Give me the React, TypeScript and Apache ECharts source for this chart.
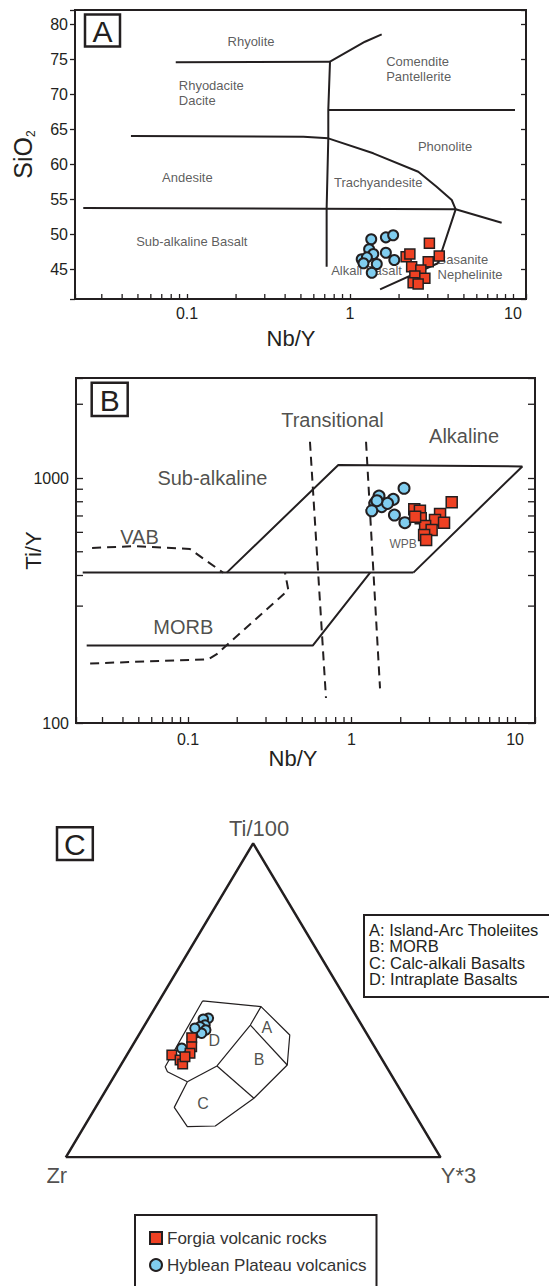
import React, { useEffect, useRef } from "react";
import * as echarts from "echarts";

const INK = "#231f20";
const TXT = "#333333";
const RED = "#ef4123";
const BLUE = "#80cdef";
const FONT = "'Liberation Sans', Arial, Helvetica, sans-serif";

// ---------------- Panel A : SiO2 vs Nb/Y ----------------
const A_X_MIN = 0.02055;
const A_X_MAX = 12.02;
const A_Y_MIN = 40.76;
const A_Y_MAX = 82.04;

const aForgia: number[][] = [
  [3.07, 48.71], [3.53, 46.9], [2.21, 46.8], [2.33, 47.19], [3.02, 46.09], [2.39, 45.37],
  [2.72, 44.9], [2.5, 44.04], [2.88, 43.71], [2.44, 43.09], [2.62, 42.9],
];
const aHyblean: number[][] = [
  [1.35, 49.29], [1.66, 49.57], [1.84, 49.86], [1.31, 47.86], [1.39, 47.19], [1.18, 46.43],
  [1.27, 46.71], [1.66, 47.37], [1.87, 46.33], [1.46, 45.76], [1.21, 45.86], [1.36, 44.51],
];

const aRhyoliteBase = [[0.0853, 74.57], [0.754, 74.66]];
const aComendite = [[0.754, 74.66], [1.236, 77.51], [1.565, 78.57]];
const aVertical = [[0.754, 74.66], [0.736, 67.76], [0.736, 63.71], [0.719, 53.71], [0.719, 45.37]];
const aPhonoliteTop = [[0.736, 67.76], [10.29, 67.76]];
const aAndesiteTop = [[0.0453, 64.04], [0.518, 63.94], [0.736, 63.71]];
const aPhonoliteBase = [[0.736, 63.71], [1.39, 61.57], [2.624, 58.94], [3.4, 56.8], [4.21, 54.9], [4.45, 53.57]];
const aBasaltTop = [[0.0231, 53.76], [4.45, 53.57]];
const aBasaniteTop = [[4.45, 53.57], [8.52, 51.66]];
const aBasaniteLeft = [[4.45, 53.57], [3.46, 45.87], [1.53, 42.14]];
const aBoundaries = [aRhyoliteBase, aComendite, aVertical, aPhonoliteTop, aAndesiteTop, aPhonoliteBase, aBasaltTop, aBasaniteTop, aBasaniteLeft];

const aFieldLabels = [
  { name: "Rhyolite", value: [0.247, 77.51] },
  { name: "Rhyodacite\nDacite", value: [0.0884, 70.19] },
  { name: "Andesite", value: [0.1005, 58.09] },
  { name: "Sub-alkaline Basalt", value: [0.107, 49.04] },
  { name: "Comendite\nPantellerite", value: [1.655, 73.59] },
  { name: "Phonolite", value: [3.83, 62.61] },
  { name: "Trachyandesite", value: [1.49, 57.37] },
  { name: "Alkali Basalt", value: [0.761, 44.9] },
  { name: "Basanite\nNephelinite", value: [3.42, 45.37] },
];
const aLeftAligned = ["Rhyodacite\nDacite", "Comendite\nPantellerite", "Alkali Basalt", "Basanite\nNephelinite"];

// ---------------- Panel B : Ti/Y vs Nb/Y ----------------
const B_X_MIN = 0.02065;
const B_X_MAX = 13.25;
const B_Y_MIN = 100;
const B_Y_MAX = 2560;

const bForgia: number[][] = [
  [4.1, 796], [2.42, 745], [2.62, 735], [2.65, 685], [3.48, 713], [3.24, 674],
  [3.68, 657], [2.82, 637], [3.09, 614], [2.78, 585], [2.86, 558], [2.45, 695],
];
const bHyblean: number[][] = [
  [2.095, 908], [1.473, 844], [1.8, 818], [1.39, 788], [1.53, 764], [1.33, 735],
  [1.83, 706], [2.12, 657], [1.66, 788], [1.43, 808],
];

const bBaseLine = [[0.0227, 411], [2.39, 411]];
const bWPB = [[0.1725, 411], [0.83, 1130], [11.08, 1115], [2.39, 411]];
const bMORB = [[0.024, 207], [0.579, 207], [1.3, 411]];
const bVAB = [[0.0259, 518], [0.0474, 527], [0.1028, 513], [0.1637, 411]];
const bMORBDash = [[0.0252, 175], [0.133, 182], [0.15, 191], [0.4107, 349], [0.392, 411]];
const bTransLeft = [[0.557, 1406], [0.698, 126.5]];
const bTransRight = [[1.227, 1406], [1.494, 138.5]];
const bSolid = [bBaseLine, bWPB, bMORB];
const bDashed = [bVAB, bMORBDash, bTransLeft, bTransRight];

const bFieldLabels = [
  { name: "Sub-alkaline", value: [0.141, 1000] },
  { name: "VAB", value: [0.0505, 574] },
  { name: "MORB", value: [0.0936, 247] },
  { name: "Transitional", value: [0.765, 1725] },
  { name: "Alkaline", value: [4.88, 1484] },
];
const bSmallLabels = [{ name: "WPB", value: [2.07, 538] }];

// tick marks
const xMinorTicks = [0.03, 0.04, 0.05, 0.06, 0.07, 0.08, 0.09, 0.2, 0.3, 0.4, 0.5, 0.6, 0.7, 0.8, 0.9, 2, 3, 4, 5, 6, 7, 8, 9];
const bYMinorTicks = [300, 400, 500, 600, 700, 800, 900, 2000];

// ---------------- Panel C : Ti/100 - Zr - Y*3 ternary ([Zr, Ti, Y]) ----------------
const cTriangle = [[1, 0, 0], [0, 0, 1], [0, 1, 0], [1, 0, 0]];
const cP1 = [0.386, 0.498, 0.116];
const cP2 = [0.239, 0.48, 0.281];
const cP3 = [0.2075, 0.3895, 0.403];
const cP4 = [0.262, 0.294, 0.444];
const cP5 = [0.404, 0.188, 0.408];
const cP6 = [0.551, 0.0997, 0.349];
const cP7 = [0.627, 0.0975, 0.2756];
const cP8 = [0.631, 0.159, 0.21];
const cP9 = [0.555, 0.2408, 0.204];
const cP10 = [0.5925, 0.2726, 0.135];
const cP11 = [0.5905, 0.2885, 0.121];
const cP12 = [0.451, 0.2908, 0.258];
const cP13 = [0.297, 0.4213, 0.282];
const cOutline = [cP1, cP2, cP3, cP4, cP5, cP6, cP7, cP8, cP9, cP10, cP11, cP1];
const cInner = [[cP9, cP12], [cP12, cP13, cP2], [cP13, cP4], [cP12, cP5]];

const cForgia: number[][] = [
  [0.4735, 0.381, 0.1455], [0.488, 0.352, 0.16], [0.503, 0.331, 0.166], [0.554, 0.3258, 0.12],
  [0.54, 0.31, 0.15], [0.5396, 0.297, 0.1634], [0.522, 0.3204, 0.158],
];
const cHyblean: number[][] = [
  [0.398, 0.4427, 0.159], [0.413, 0.4395, 0.147], [0.418, 0.4213, 0.161], [0.434, 0.416, 0.15],
  [0.424, 0.4054, 0.171], [0.45, 0.398, 0.152], [0.44, 0.395, 0.165], [0.45, 0.4108, 0.139],
  [0.517, 0.347, 0.136],
];
const cFieldLabels = [
  { name: "A", value: [0.2566, 0.414, 0.3294] },
  { name: "B", value: [0.328, 0.3121, 0.3599] },
  { name: "C", value: [0.5476, 0.172, 0.2804] },
  { name: "D", value: [0.4181, 0.3713, 0.2106] },
];
const cApexNames = ["Zr", "Ti/100", "Y*3"];
const cLegendLines = ["A: Island-Arc Tholeiites", "B: MORB", "C: Calc-alkali Basalts", "D: Intraplate Basalts"];

const SERIES_F = "Forgia volcanic rocks";
const SERIES_H = "Hyblean Plateau volcanics";

function tern(p: number[]) {
  const s = p[0] + p[1] + p[2];
  const ti = p[1] / s;
  const y = p[2] / s;
  return [y + ti / 2, ti];
}

const decadeLabel = (v: number) => {
  const l = Math.log10(v);
  return Math.abs(l - Math.round(l)) < 1e-6 ? String(Math.round(Math.pow(10, Math.round(l)) * 1000) / 1000) : "";
};

function lineSeries(data: number[][], xi: number, yi: number, width: number, dashed = false) {
  return {
    type: "line", xAxisIndex: xi, yAxisIndex: yi, data, silent: true, z: 2,
    symbol: "none", showSymbol: false, animation: false,
    lineStyle: { color: INK, width, type: dashed ? [9, 6] : "solid", cap: "butt" },
  };
}

function labelSeries(data: any[], xi: number, yi: number, fontSize: number, leftNames: string[] = [], color = TXT) {
  return {
    type: "scatter", xAxisIndex: xi, yAxisIndex: yi, silent: true, z: 3,
    symbolSize: 1, itemStyle: { color: "rgba(0,0,0,0)" },
    data: data.map((d) => ({
      name: d.name, value: d.value,
      label: leftNames.includes(d.name) ? { position: "right", distance: 0, align: "left" } : undefined,
    })),
    label: { show: true, position: "inside", formatter: "{b}", fontSize, fontFamily: FONT, color, lineHeight: Math.round(fontSize * 1.18) },
  };
}

function markerSeries(name: string, data: number[][], xi: number, yi: number, size: number) {
  const isF = name === SERIES_F;
  return {
    name, type: "scatter", xAxisIndex: xi, yAxisIndex: yi, z: isF ? 6 : 5, data,
    symbol: isF ? "rect" : "circle", symbolSize: size,
    itemStyle: { color: isF ? RED : BLUE, borderColor: INK, borderWidth: isF ? 1.5 : 2, opacity: 1 },
  };
}

function xTickSeries(xi: number, yi: number, yMin: number, len: number) {
  return {
    type: "custom", xAxisIndex: xi, yAxisIndex: yi, silent: true, z: 4, clip: false,
    data: xMinorTicks.map((v) => [v, yMin]),
    renderItem: (_p: any, api: any) => {
      const p = api.coord([api.value(0), yMin]);
      return { type: "line", shape: { x1: p[0], y1: p[1], x2: p[0], y2: p[1] - len }, style: { stroke: INK, lineWidth: 1.3 } };
    },
  };
}

function yTickSeries(xi: number, yi: number, xMin: number, xMax: number, len: number) {
  return {
    type: "custom", xAxisIndex: xi, yAxisIndex: yi, silent: true, z: 4, clip: false,
    data: bYMinorTicks.map((v) => [xMin, v]),
    renderItem: (_p: any, api: any) => {
      const v = api.value(1);
      const l = api.coord([xMin, v]);
      const r = api.coord([xMax, v]);
      return {
        type: "group",
        children: [
          { type: "line", shape: { x1: l[0], y1: l[1], x2: l[0] + len, y2: l[1] }, style: { stroke: INK, lineWidth: 1.3 } },
          { type: "line", shape: { x1: r[0], y1: r[1], x2: r[0] - len, y2: r[1] }, style: { stroke: INK, lineWidth: 1.3 } },
        ],
      };
    },
  };
}

function panelTag(letter: string, x: number, y: number, w: number, h: number) {
  return [
    { type: "rect", shape: { x, y, width: w, height: h }, style: { fill: "#fff", stroke: INK, lineWidth: 2.5 }, z: 20 },
    {
      type: "text", x: x + w / 2, y: y + h / 2 + 1, z: 21,
      style: { text: letter, fontSize: 30, fontFamily: FONT, fill: INK, align: "center", verticalAlign: "middle", textAlign: "center", textVerticalAlign: "middle" },
    },
  ];
}

export default function App() {
  const ref = useRef<HTMLDivElement>(null);
  useEffect(() => {
    if (!ref.current) return;
    const chart = echarts.init(ref.current, undefined, { renderer: "svg" });
    const tickLabel = { color: INK, fontSize: 16, fontFamily: FONT };
    const series: any[] = [];

    // Panel A
    aBoundaries.forEach((l) => series.push(lineSeries(l, 0, 0, 2)));
    series.push(labelSeries(aFieldLabels, 0, 0, 13, aLeftAligned));
    series.push(xTickSeries(0, 0, A_Y_MIN, 5));
    series.push(markerSeries(SERIES_H, aHyblean, 0, 0, 10));
    series.push(markerSeries(SERIES_F, aForgia, 0, 0, 10));

    // Panel B
    bSolid.forEach((l) => series.push(lineSeries(l, 1, 2, 2)));
    bDashed.forEach((l) => series.push(lineSeries(l, 1, 2, 2, true)));
    series.push(labelSeries(bFieldLabels, 1, 2, 20, [], INK));
    series.push(labelSeries(bSmallLabels, 1, 2, 12));
    series.push(xTickSeries(1, 2, B_Y_MIN, 6));
    series.push(yTickSeries(1, 2, B_X_MIN, B_X_MAX, 7));
    series.push(markerSeries(SERIES_H, bHyblean, 1, 2, 11));
    series.push(markerSeries(SERIES_F, bForgia, 1, 2, 11));

    // Panel C
    series.push(lineSeries(cTriangle.map(tern), 2, 4, 2.5));
    series.push(lineSeries(cOutline.map(tern), 2, 4, 1.2));
    cInner.forEach((l) => series.push(lineSeries(l.map(tern), 2, 4, 1.2)));
    series.push(labelSeries(cFieldLabels.map((d) => ({ name: d.name, value: tern(d.value) })), 2, 4, 16, [], INK));
    series.push({
      type: "scatter", xAxisIndex: 2, yAxisIndex: 4, silent: true, z: 3, symbolSize: 1,
      itemStyle: { color: "rgba(0,0,0,0)" },
      data: [
        { name: cApexNames[0], value: tern(cTriangle[0]), label: { position: "bottom", offset: [-9, 4] } },
        { name: cApexNames[1], value: tern(cTriangle[2]), label: { position: "top", offset: [6, 0] } },
        { name: cApexNames[2], value: tern(cTriangle[1]), label: { position: "bottom", offset: [18, 4] } },
      ],
      label: { show: true, formatter: "{b}", fontSize: 22, fontFamily: FONT, color: INK, distance: 3 },
    });
    series.push(markerSeries(SERIES_H, cHyblean.map(tern), 2, 4, 9.5));
    series.push(markerSeries(SERIES_F, cForgia.map(tern), 2, 4, 9.5));

    const option: any = {
      animation: false,
      backgroundColor: "#ffffff",
      textStyle: { fontFamily: FONT },
      grid: [
        { left: 75, top: 10, width: 451, height: 289, show: true, borderColor: INK, borderWidth: 2, backgroundColor: "transparent", containLabel: false },
        { left: 76, top: 378, width: 459, height: 345, show: true, borderColor: INK, borderWidth: 2, backgroundColor: "transparent", containLabel: false },
        { left: 65.8, top: 843.3, width: 374.7, height: 314, show: false, containLabel: false },
      ],
      xAxis: [
        {
          type: "log", gridIndex: 0, min: A_X_MIN, max: A_X_MAX, logBase: 10,
          axisLine: { show: false }, splitLine: { show: false },
          axisTick: { show: true, inside: true, length: 5, lineStyle: { color: INK, width: 1.3 } },
          axisLabel: { ...tickLabel, margin: 6, formatter: decadeLabel },
          name: "Nb/Y", nameLocation: "middle", nameGap: 28, nameMoveOverlap: false,
          nameTextStyle: { fontSize: 22, color: INK, fontFamily: FONT, padding: [0, 19, 0, 0] },
        },
        {
          type: "log", gridIndex: 1, min: B_X_MIN, max: B_X_MAX, logBase: 10,
          axisLine: { show: false }, splitLine: { show: false },
          axisTick: { show: true, inside: true, length: 6, lineStyle: { color: INK, width: 1.3 } },
          axisLabel: { ...tickLabel, margin: 8, formatter: decadeLabel },
          name: "Nb/Y", nameLocation: "middle", nameGap: 24, nameMoveOverlap: false,
          nameTextStyle: { fontSize: 22, color: INK, fontFamily: FONT, padding: [0, 25, 0, 0] },
        },
        { type: "value", gridIndex: 2, min: 0, max: 1, show: false },
      ],
      yAxis: [
        {
          type: "value", gridIndex: 0, min: A_Y_MIN, max: A_Y_MAX, splitNumber: 8,
          axisLine: { show: false }, splitLine: { show: false },
          axisTick: { show: true, inside: false, length: 5, lineStyle: { color: INK, width: 1.3 } },
          axisLabel: { ...tickLabel, margin: 7, formatter: (v: number) => (Math.abs(v / 5 - Math.round(v / 5)) < 1e-6 ? String(Math.round(v)) : "") },
          name: "{m|SiO}{s|2}", nameLocation: "middle", nameGap: 38, nameMoveOverlap: false,
          nameTextStyle: {
            rich: {
              m: { fontSize: 25, color: INK, fontFamily: FONT, lineHeight: 28 },
              s: { fontSize: 12, color: INK, fontFamily: FONT, verticalAlign: "bottom", lineHeight: 14 },
            },
          },
        },
        {
          type: "value", gridIndex: 0, position: "right", min: A_Y_MIN, max: A_Y_MAX, splitNumber: 8,
          axisLine: { show: false }, splitLine: { show: false }, axisLabel: { show: false },
          axisTick: { show: true, inside: true, length: 5, lineStyle: { color: INK, width: 1.3 } },
        },
        {
          type: "log", gridIndex: 1, min: B_Y_MIN, max: B_Y_MAX, logBase: 10,
          axisLine: { show: false }, splitLine: { show: false },
          axisTick: { show: true, inside: true, length: 7, lineStyle: { color: INK, width: 1.3 } },
          axisLabel: { ...tickLabel, margin: 7, formatter: decadeLabel },
          name: "Ti/Y", nameLocation: "middle", nameGap: 32, nameMoveOverlap: false,
          nameTextStyle: { fontSize: 22, color: INK, fontFamily: FONT },
        },
        {
          type: "log", gridIndex: 1, position: "right", min: B_Y_MIN, max: B_Y_MAX, logBase: 10,
          axisLine: { show: false }, splitLine: { show: false }, axisLabel: { show: false },
          axisTick: { show: true, inside: true, length: 7, lineStyle: { color: INK, width: 1.3 } },
        },
        { type: "value", gridIndex: 2, min: 0, max: 1, show: false },
      ],
      legend: {
        show: true, selectedMode: false, orient: "vertical", left: 149, top: 1229.5,
        data: [SERIES_F, SERIES_H], itemWidth: 12, itemHeight: 12, itemGap: 10,
        padding: 0, z: 22,
        textStyle: { fontSize: 17, color: TXT, fontFamily: FONT },
      },
      graphic: [
        ...panelTag("A", 85, 14.5, 35, 32),
        ...panelTag("B", 91.7, 382.7, 36, 33.3),
        ...panelTag("C", 57, 827.3, 35.8, 32.7),
        { type: "rect", shape: { x: 364, y: 915, width: 200, height: 82 }, style: { fill: "#fff", stroke: INK, lineWidth: 2 }, z: 20 },
        ...cLegendLines.map((t, i) => ({
          type: "text", x: 369, y: 930 + i * 16.4, z: 21,
          style: { text: t, fontSize: 16.5, fontFamily: FONT, fill: INK, align: "left", verticalAlign: "middle", textAlign: "left", textVerticalAlign: "middle" },
        })),
        { type: "rect", shape: { x: 135, y: 1215, width: 241.5, height: 100 }, style: { fill: "#fff", stroke: INK, lineWidth: 2 }, z: 0 },
      ],
      series,
    };
    chart.setOption(option);
    return () => chart.dispose();
  }, []);
  return <div ref={ref} style={{ position: "absolute", left: 0, top: 0, width: 549, height: 1286, background: "#fff" }} />;
}
